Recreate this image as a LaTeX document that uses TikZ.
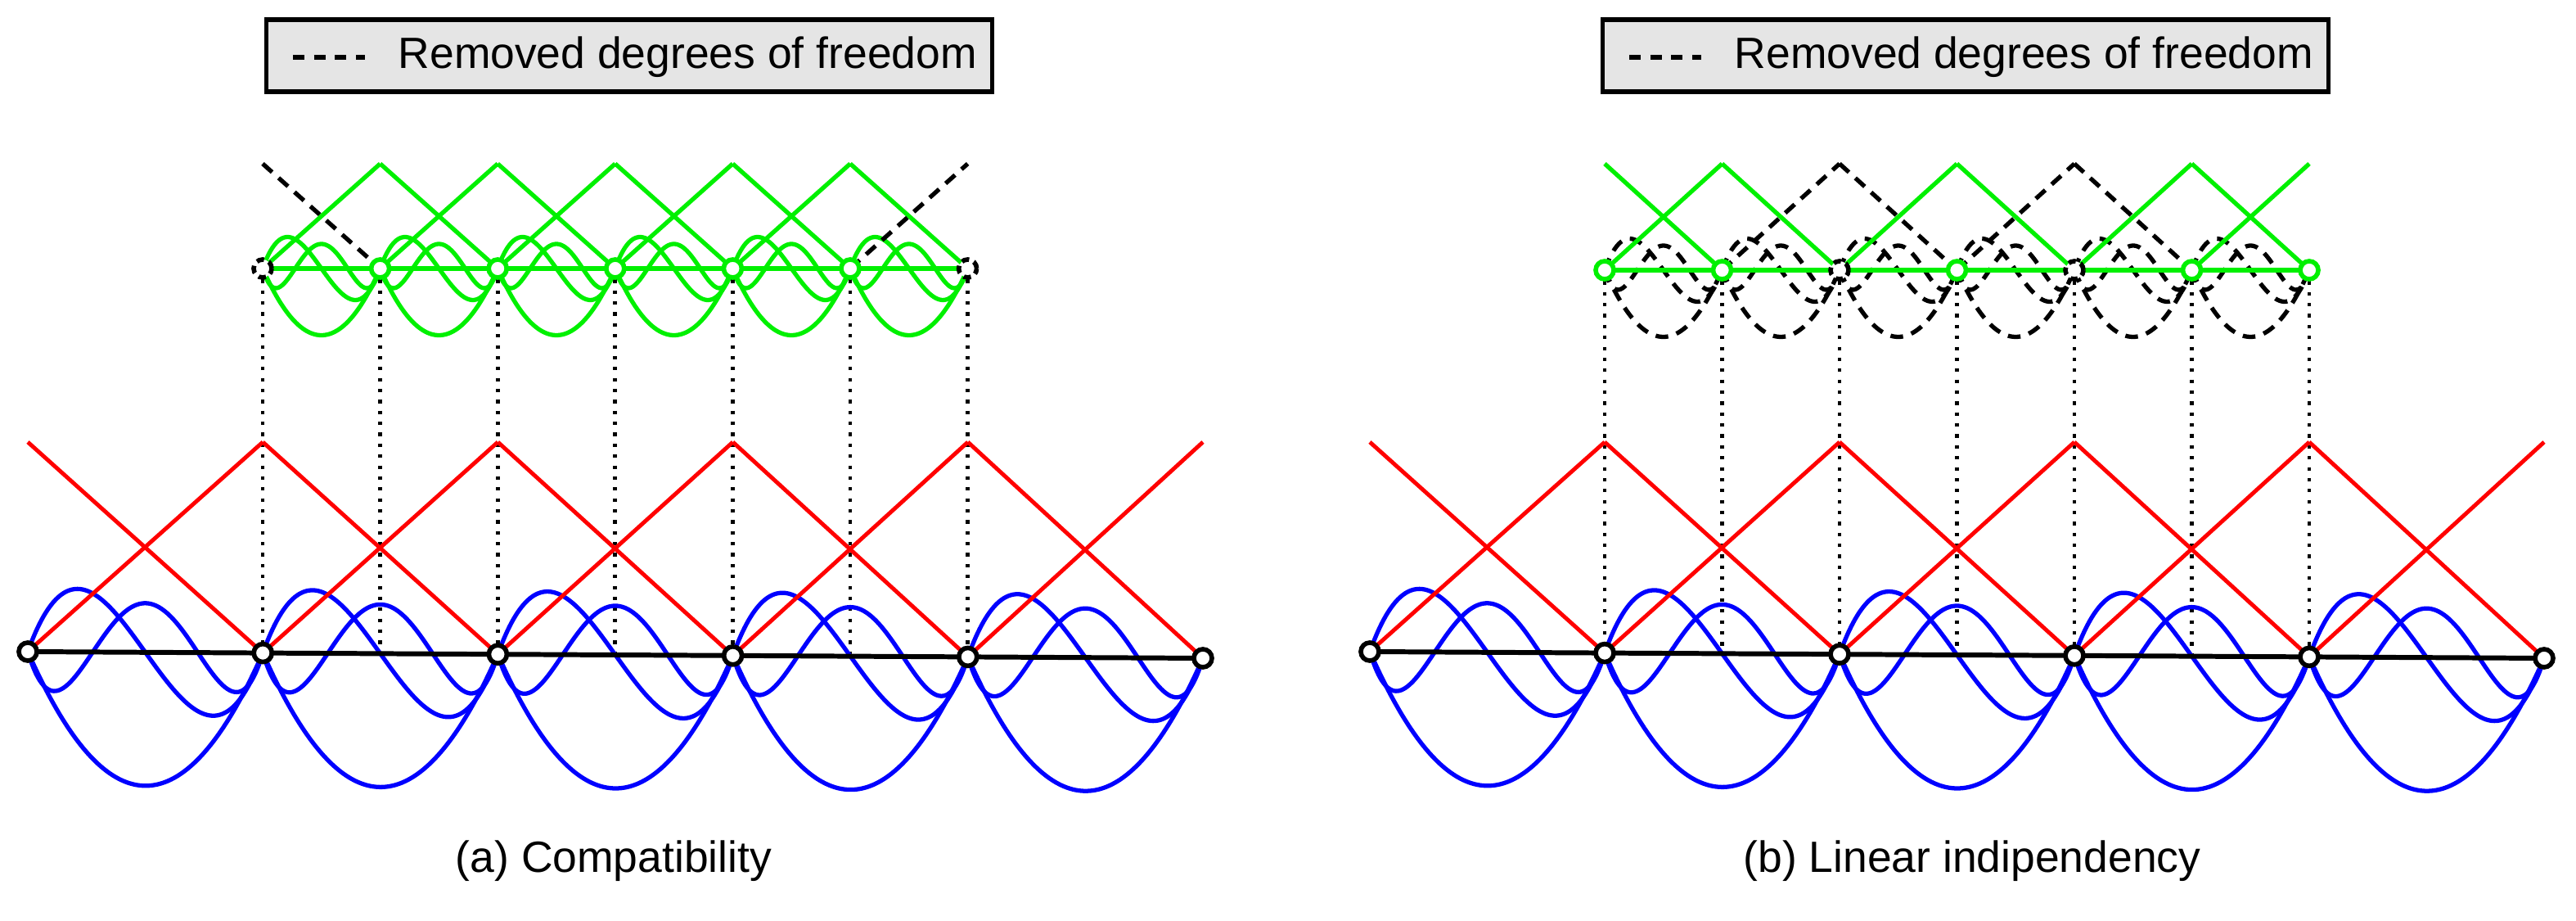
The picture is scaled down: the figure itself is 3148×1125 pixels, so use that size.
\documentclass[tikz,border=0pt]{standalone}
\usepackage{fontspec}
\setmainfont{Liberation Sans}
\begin{document}
\begin{tikzpicture}[x=0.01cm,y=-0.01cm,
  crs/.style={line width=1.5pt,color={rgb,255:red,0;green,0;blue,255}},
  grn/.style={line width=1.5pt,color={rgb,255:red,0;green,240;blue,0}},
  rem/.style={line width=1.5pt,black,dash pattern=on 4.4pt off 3pt},
  redl/.style={line width=1.4pt,color={rgb,255:red,255;green,0;blue,0}},
  blk/.style={line width=1.7pt,black},
  dotl/.style={line width=1.4pt,black,dash pattern=on 1.2pt off 2.6pt},
  dof/.style={circle,draw=black,fill=white,line width=1.6pt,minimum size=0.22cm,inner sep=0pt},
  gdof/.style={dof,draw={rgb,255:red,0;green,240;blue,0}},
  rdof/.style={dof,dash pattern=on 2.6pt off 1.8pt},
  legbox/.style={draw=black,line width=1.5pt,fill={rgb,255:red,229;green,229;blue,229},minimum width=8.86cm,minimum height=0.88cm,inner sep=0pt},
  txt/.style={font=\fontsize{15.2}{18}\selectfont,inner sep=0pt}
]
\useasboundingbox (0,0) rectangle (3148,1125);
\newcommand\elemcurves[6]{%
  \draw[#6] plot[variable=\t,domain=0:1,samples=60,smooth] ({#1+(#3-#1)*\t},{#2+(#4-#2)*\t+#5*163*(1-(2*\t-1)*(2*\t-1))});
  \draw[#6] plot[variable=\t,domain=0:1,samples=60,smooth] ({#1+(#3-#1)*\t},{#2+(#4-#2)*\t+#5*200*(2*\t-1)*(1-(2*\t-1)*(2*\t-1))});
  \draw[#6] plot[variable=\t,domain=0:1,samples=60,smooth] ({#1+(#3-#1)*\t},{#2+(#4-#2)*\t-#5*60*((2*\t-1)*(2*\t-1)-1)*(5*(2*\t-1)*(2*\t-1)-1)});
}
% ---------- legends
\node[legbox] (L1) at (769,68) {};
\coordinate (l1a) at (358,70); \coordinate (l1b) at (446,70);
\draw[rem,dash pattern=on 4pt off 3.3pt] (l1a) -- (l1b);
\node[txt,anchor=west] (t1) at (486,70) {Removed degrees of freedom};
\node[legbox] (L2) at (2402,68) {};
\coordinate (l2a) at (1991,70); \coordinate (l2b) at (2079,70);
\draw[rem,dash pattern=on 4pt off 3.3pt] (l2a) -- (l2b);
\node[txt,anchor=west] (t2) at (2119,70) {Removed degrees of freedom};
% ---------- captions
\node[txt] (c1) at (750,1052) {(a) Compatibility};
\node[txt] (c2) at (2410,1052) {(b) Linear indipendency};
% ---------- coordinates
\foreach \i in {0,...,5}{
  \pgfmathsetmacro\xa{34+287.2*\i}\pgfmathsetmacro\xb{1674+287*\i}\pgfmathsetmacro\yy{796+1.6*\i}
  \coordinate (a\i) at (\xa,\yy); \coordinate (pa\i) at (\xa,540);
  \coordinate (b\i) at (\xb,\yy); \coordinate (pb\i) at (\xb,540);
}
\foreach \j in {0,...,6}{
  \pgfmathsetmacro\xf{321+143.6*\j}\pgfmathsetmacro\xg{1961+143.5*\j}
  \pgfmathsetmacro\yf{796+1.6*(1+\j/2)}
  \coordinate (f\j) at (\xf,328); \coordinate (pf\j) at (\xf,200); \coordinate (df\j) at (\xf,\yf);
  \coordinate (g\j) at (\xg,330); \coordinate (pg\j) at (\xg,200); \coordinate (dg\j) at (\xg,\yf);
}
% ---------- dotted projections
\foreach \j in {0,...,6}{
  \draw[dotl] (f\j) -- (df\j);
  \draw[dotl] (g\j) -- (dg\j);
}
% ---------- coarse level
\foreach \i in {0,...,4}{
  \pgfmathtruncatemacro\k{\i+1}
  \pgfmathsetmacro\xa{34+287.2*\i}\pgfmathsetmacro\xaa{34+287.2*(\i+1)}
  \pgfmathsetmacro\xb{1674+287*\i}\pgfmathsetmacro\xbb{1674+287*(\i+1)}
  \pgfmathsetmacro\ya{796+1.6*\i}\pgfmathsetmacro\yaa{796+1.6*(\i+1)}
  \elemcurves{\xa}{\ya}{\xaa}{\yaa}{1}{crs}
  \elemcurves{\xb}{\ya}{\xbb}{\yaa}{1}{crs}
  \draw[redl] (pa\i) -- (a\k); \draw[redl] (a\i) -- (pa\k);
  \draw[redl] (pb\i) -- (b\k); \draw[redl] (b\i) -- (pb\k);
}
\draw[blk] (a0) -- (a5);
\draw[blk] (b0) -- (b5);
% ---------- fine level
\foreach \i in {0,...,5}{
  \pgfmathsetmacro\xf{321+143.6*\i}\pgfmathsetmacro\xff{321+143.6*(\i+1)}
  \pgfmathsetmacro\xg{1961+143.5*\i}\pgfmathsetmacro\xgg{1961+143.5*(\i+1)}
  \elemcurves{\xf}{328}{\xff}{328}{0.5}{grn}
  \elemcurves{\xg}{330}{\xgg}{330}{0.5}{rem}
}
\draw[grn] (f0) -- (f6);
\draw[grn] (g0) -- (g6);
\foreach \i/\k/\sr/\sl in {0/1/rem/grn,1/2/grn/grn,2/3/grn/grn,3/4/grn/grn,4/5/grn/grn,5/6/grn/rem}{
  \draw[\sr] (pf\i) -- (f\k); \draw[\sl] (f\i) -- (pf\k);
}
\foreach \i/\k/\sr/\sl in {0/1/grn/grn,1/2/grn/rem,2/3/rem/grn,3/4/grn/rem,4/5/rem/grn,5/6/grn/grn}{
  \draw[\sr] (pg\i) -- (g\k); \draw[\sl] (g\i) -- (pg\k);
}
% ---------- dof markers
\foreach \i in {0,...,5}{
  \node[dof] (A\i) at (a\i) {};
  \node[dof] (B\i) at (b\i) {};
}
\foreach \j/\s in {0/rdof,1/gdof,2/gdof,3/gdof,4/gdof,5/gdof,6/rdof}{
  \node[\s] (F\j) at (f\j) {};
}
\foreach \j/\s in {0/gdof,1/gdof,2/rdof,3/gdof,4/rdof,5/gdof,6/gdof}{
  \node[\s] (G\j) at (g\j) {};
}
\end{tikzpicture}
\end{document}
